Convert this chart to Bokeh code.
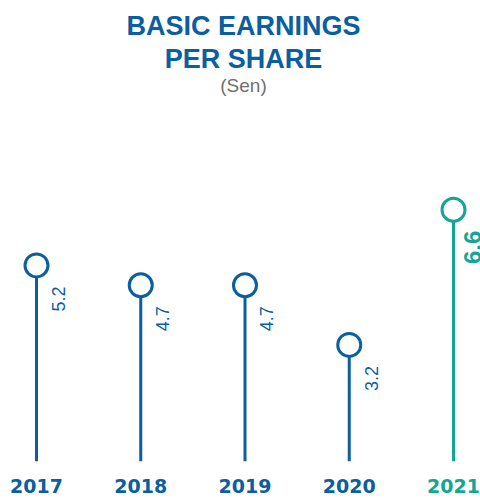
import math
from bokeh.plotting import figure
from bokeh.models import Label, Range1d, ColumnDataSource
from bokeh.embed import file_html
from bokeh.resources import INLINE
from bokeh.core.properties import value

# ---- data ----
years = ["2017", "2018", "2019", "2020", "2021"]
eps = [5.2, 4.7, 4.7, 3.2, 6.6]
eps_labels = ["5.2", "4.7", "4.7", "3.2", "6.6"]
highlight = [False, False, False, False, True]
title_lines = ["BASIC EARNINGS", "PER SHARE"]
subtitle = "(Sen)"

BLUE = "#0b5e9f"
TEAL = "#14a595"
GREY = "#707070"

xs = list(range(len(years)))
colors = [TEAL if h else BLUE for h in highlight]
BASE = 0.27

W, H = 480, 498
p = figure(width=W, height=H, output_backend="svg", toolbar_location=None,
           x_range=Range1d(-0.3453, 4.259), y_range=Range1d(-0.664, 11.864),
           min_border=0, outline_line_color=None)
p.axis.visible = False
p.grid.visible = False
p.background_fill_color = "white"
p.border_fill_color = "white"

src = ColumnDataSource(dict(x=xs, y=eps, base=[BASE] * len(xs), c=colors,
                            years=years, lab=eps_labels))

p.segment(x0="x", y0="base", x1="x", y1="y", source=src, line_color="c", line_width=3)
p.scatter(x="x", y="y", source=src, size=23, fill_color="white", line_color="c", line_width=3)

# year labels
p.text(x="x", y="base", text="years", source=src, y_offset=25, text_align="center",
       text_baseline="alphabetic", text_color="c", text_font=value("DejaVu Sans"),
       text_font_style="bold", text_font_size="19px")

# value labels
norm = ColumnDataSource(dict(x=[x for x, h in zip(xs, highlight) if not h],
                             y=[v for v, h in zip(eps, highlight) if not h],
                             t=[t for t, h in zip(eps_labels, highlight) if not h]))
hi = ColumnDataSource(dict(x=[x for x, h in zip(xs, highlight) if h],
                           y=[v for v, h in zip(eps, highlight) if h],
                           t=[t for t, h in zip(eps_labels, highlight) if h]))
p.text(x="x", y="y", text="t", source=norm, angle=math.pi / 2, x_offset=22, y_offset=21,
       text_align="right", text_baseline="alphabetic", text_color=BLUE,
       text_font=value("Liberation Sans"), text_font_size="18px")
p.text(x="x", y="y", text="t", source=hi, angle=math.pi / 2, x_offset=19, y_offset=21,
       text_align="right", text_baseline="alphabetic", text_color=TEAL,
       text_font=value("Liberation Sans"), text_font_style="bold", text_font_size="24px")

# titles
p.add_layout(Label(x=243, y=472.7, x_units="screen", y_units="screen", text=title_lines[0],
                   text_align="center", text_baseline="alphabetic", text_color=BLUE,
                   text_font="Liberation Sans", text_font_style="bold", text_font_size="27px"))
p.add_layout(Label(x=243, y=439.3, x_units="screen", y_units="screen", text=title_lines[1],
                   text_align="center", text_baseline="alphabetic", text_color=BLUE,
                   text_font="Liberation Sans", text_font_style="bold", text_font_size="27px"))
p.add_layout(Label(x=243, y=413, x_units="screen", y_units="screen", text=subtitle,
                   text_align="center", text_baseline="alphabetic", text_color=GREY,
                   text_font="Liberation Sans", text_font_size="19px"))

open("out.html", "w").write(file_html(p, INLINE))
